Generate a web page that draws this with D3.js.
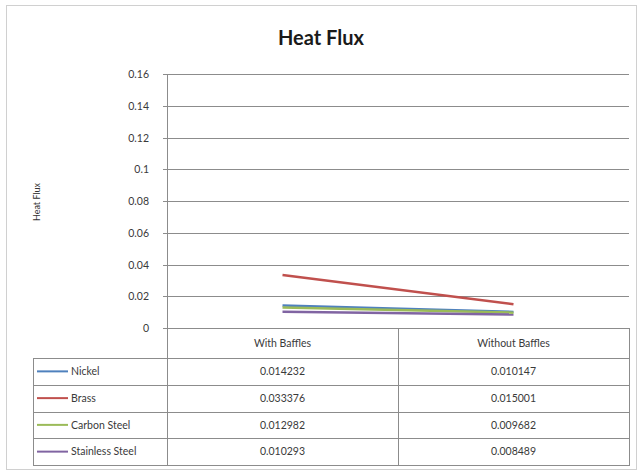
<!DOCTYPE html>
<html><head><meta charset="utf-8">
<script src="https://cdn.jsdelivr.net/npm/d3@7"></script>
<style>
html,body{margin:0;padding:0;background:#fff;}
svg{display:block;font-family:"Lato","Liberation Sans",sans-serif;}
</style></head>
<body>
<svg id="c" width="641" height="472"></svg>
<script>
const categories = ["With Baffles", "Without Baffles"];
const seriesNames = ["Nickel", "Brass", "Carbon Steel", "Stainless Steel"];
const nickel = [0.014232, 0.010147];
const brass = [0.033376, 0.015001];
const carbonSteel = [0.012982, 0.009682];
const stainlessSteel = [0.010293, 0.008489];
const labels = {
  "Nickel": ["0.014232", "0.010147"],
  "Brass": ["0.033376", "0.015001"],
  "Carbon Steel": ["0.012982", "0.009682"],
  "Stainless Steel": ["0.010293", "0.008489"]
};
const yTicks = [0, 0.02, 0.04, 0.06, 0.08, 0.1, 0.12, 0.14, 0.16];
const colors = ["#4F81BD", "#C0504D", "#9BBB59", "#8064A2"];
const seriesValues = [nickel, brass, carbonSteel, stainlessSteel];

const svg = d3.select("#c");
const L = 167, R = 629, T = 74, B = 328;
const legendLeft = 33;
const gridColor = "#8c8c8c";
const textColor = "#3a3a3a";

// outer border
svg.append("rect").attr("x", 6.5).attr("y", 5.5).attr("width", 630).attr("height", 464)
  .attr("fill", "#fff").attr("stroke", "#d0d0d0").attr("stroke-width", 1);

// title
svg.append("text").attr("x", 321).attr("y", 45).attr("text-anchor", "middle")
  .attr("font-size", 20).attr("font-weight", "bold").attr("fill", "#1a1a1a").text("Heat Flux");

const x = d3.scaleBand().domain(categories).range([L, R]);
const y = d3.scaleLinear().domain([0, 0.16]).range([B, T]);

// gridlines
svg.append("g").selectAll("line").data(yTicks).join("line")
  .attr("x1", L - 4).attr("x2", R)
  .attr("y1", d => Math.round(y(d)) + 0.5).attr("y2", d => Math.round(y(d)) + 0.5)
  .attr("stroke", gridColor).attr("stroke-width", 1);

// y axis labels via d3 axis
const yAxis = svg.append("g").attr("transform", `translate(${L - 15},0)`)
  .call(d3.axisLeft(y).tickValues(yTicks).tickSize(0).tickFormat(d => d === 0 ? "0" : d3.format("")(+d.toFixed(2))));
yAxis.select(".domain").remove();
yAxis.selectAll("text").attr("font-size", 10.5).attr("fill", textColor)
  .attr("font-family", "Lato, 'Liberation Sans', sans-serif").attr("dy", "0.35em");

// y axis title
svg.append("text").attr("transform", "translate(40,202) rotate(-90)")
  .attr("text-anchor", "middle").attr("font-size", 9).attr("fill", "#333").text("Heat Flux");

// axis line (vertical) through plot and table
svg.append("line").attr("x1", L + 0.5).attr("x2", L + 0.5).attr("y1", T).attr("y2", 465)
  .attr("stroke", gridColor);

// series lines
const line = d3.line().x((d, i) => x(categories[i]) + x.bandwidth() / 2).y(d => y(d));
svg.append("g").selectAll("path").data(seriesValues).join("path")
  .attr("d", d => line(d)).attr("fill", "none")
  .attr("stroke", (d, i) => colors[i]).attr("stroke-width", 2.5).attr("stroke-linecap", "butt");

// data table
const headerTop = B, headerBottom = 358, tableBottom = 465;
const rowY = d3.scaleBand().domain(seriesNames).range([headerBottom, tableBottom]);
const tg = svg.append("g");
tg.append("line").attr("x1", L).attr("x2", R).attr("y1", headerTop + 0.5).attr("y2", headerTop + 0.5).attr("stroke", gridColor);
const hLines = [headerBottom].concat(seriesNames.map(s => rowY(s) + rowY.bandwidth()));
tg.selectAll("line.h").data(hLines).join("line").attr("class", "h")
  .attr("x1", legendLeft).attr("x2", R)
  .attr("y1", d => Math.round(d) + 0.5).attr("y2", d => Math.round(d) + 0.5)
  .attr("stroke", gridColor);
tg.append("line").attr("x1", legendLeft + 0.5).attr("x2", legendLeft + 0.5).attr("y1", headerBottom).attr("y2", tableBottom + 1).attr("stroke", gridColor);
const vx = categories.map(c => x(c) + x.bandwidth()).concat([L]);
tg.selectAll("line.v").data(vx).join("line").attr("class", "v")
  .attr("x1", d => Math.round(d) + 0.5).attr("x2", d => Math.round(d) + 0.5)
  .attr("y1", headerTop).attr("y2", tableBottom + 1).attr("stroke", gridColor);

// header text
tg.selectAll("text.hd").data(categories).join("text").attr("class", "hd")
  .attr("x", d => x(d) + x.bandwidth() / 2).attr("y", (headerTop + headerBottom) / 2)
  .attr("dy", "0.35em").attr("text-anchor", "middle").attr("font-size", 10.5).attr("fill", textColor).text(d => d);

// rows
seriesNames.forEach((s, i) => {
  const cy = rowY(s) + rowY.bandwidth() / 2;
  tg.append("line").attr("x1", 37).attr("x2", 68).attr("y1", cy).attr("y2", cy)
    .attr("stroke", colors[i]).attr("stroke-width", 2);
  tg.append("text").attr("x", 71).attr("y", cy).attr("dy", "0.35em")
    .attr("font-size", 10.5).attr("fill", textColor).text(s);
  categories.forEach((c, j) => {
    tg.append("text").attr("x", x(c) + x.bandwidth() / 2).attr("y", cy).attr("dy", "0.35em")
      .attr("text-anchor", "middle").attr("font-size", 10.5).attr("fill", textColor).text(labels[s][j]);
  });
});
</script>
</body></html>
